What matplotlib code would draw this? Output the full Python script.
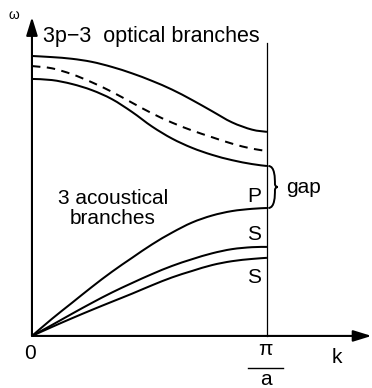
import matplotlib
matplotlib.use('Agg')
import matplotlib.pyplot as plt
from matplotlib.path import Path
from matplotlib.patches import PathPatch

plt.rcParams['font.family'] = ['Liberation Sans', 'DejaVu Sans']

# wave vector in units of pi/a
k = [0, 0.085, 0.17, 0.255, 0.34, 0.426, 0.511, 0.596, 0.681, 0.766, 0.851, 0.936, 1.0]

# optical branches (arbitrary frequency units)
opt_top = [1.000, 0.996, 0.990, 0.979, 0.961, 0.938, 0.911, 0.880, 0.843, 0.803, 0.763, 0.737, 0.729]
opt_mid = [0.964, 0.956, 0.935, 0.906, 0.872, 0.833, 0.795, 0.762, 0.734, 0.710, 0.687, 0.669, 0.661]
opt_low = [0.918, 0.914, 0.900, 0.878, 0.846, 0.800, 0.748, 0.705, 0.672, 0.647, 0.628, 0.614, 0.607]

# acoustical branches
ac_P = [0, 0.061, 0.118, 0.175, 0.229, 0.279, 0.327, 0.369, 0.405, 0.430, 0.446, 0.454, 0.457]
ac_S1 = [0, 0.039, 0.079, 0.118, 0.155, 0.189, 0.221, 0.250, 0.274, 0.295, 0.310, 0.317, 0.318]
ac_S2 = [0, 0.032, 0.063, 0.093, 0.122, 0.151, 0.181, 0.209, 0.232, 0.253, 0.267, 0.275, 0.279]


def smooth_path(xs, ys):
    # Catmull-Rom through the points, as cubic Bezier segments
    pts = list(zip(xs, ys))
    verts = [pts[0]]
    codes = [Path.MOVETO]
    n = len(pts)
    for i in range(n - 1):
        p0 = pts[max(i - 1, 0)]
        p1 = pts[i]
        p2 = pts[i + 1]
        p3 = pts[min(i + 2, n - 1)]
        c1 = (p1[0] + (p2[0] - p0[0]) / 6, p1[1] + (p2[1] - p0[1]) / 6)
        c2 = (p2[0] - (p3[0] - p1[0]) / 6, p2[1] - (p3[1] - p1[1]) / 6)
        verts += [c1, c2, p2]
        codes += [Path.CURVE4] * 3
    return Path(verts, codes)


fig = plt.figure(figsize=(3.72, 3.88), dpi=100)
ax = fig.add_axes([0, 0, 1, 1])
ax.set_xlim(-0.136, 1.447)
ax.set_ylim(-0.186, 1.2)
ax.axis('off')

lw = 1.45
for branch in (opt_top, opt_low, ac_P, ac_S1, ac_S2):
    ax.add_patch(PathPatch(smooth_path(k, branch), fc='none', ec='k', lw=lw))
ax.add_patch(PathPatch(smooth_path(k, opt_mid), fc='none', ec='k', lw=lw,
                       linestyle=(0, (4.2, 3.2))))

# axes with arrows
arrow = dict(arrowstyle='-|>,head_length=0.55,head_width=0.17', lw=1.5, color='k',
             mutation_scale=20, shrinkA=0, shrinkB=0)
ax.annotate('', xy=(0, 1.139), xytext=(0, 0), arrowprops=arrow)
ax.annotate('', xy=(1.445, 0), xytext=(0, 0), arrowprops=arrow)

# zone boundary
ax.plot([1, 1], [0, 1.046], 'k', lw=0.9)

# brace over the gap
y0, y1 = ac_P[-1], opt_low[-1]
ym = (y0 + y1) / 2
x0 = 1.006
w = 0.04
verts = [(x0, y1), (x0 + w * 0.7, y1), (x0 + w * 0.7, ym + 0.03), (x0 + w * 0.7, ym + 0.012),
         (x0 + w * 0.7, ym), (x0 + w, ym), (x0 + w, ym),
         (x0 + w, ym), (x0 + w * 0.7, ym), (x0 + w * 0.7, ym - 0.012),
         (x0 + w * 0.7, ym - 0.03), (x0 + w * 0.7, y0), (x0, y0)]
codes = [Path.MOVETO] + [Path.CURVE4] * 12
ax.add_patch(PathPatch(Path(verts, codes), fc='none', ec='k', lw=1.4))

fs = 15
ax.text(-0.077, 1.146, 'ω', fontsize=10, ha='center', va='center')
ax.text(0.045, 1.05, '3p−3  optical branches', fontsize=15.5, ha='left', va='baseline')
ax.text(0.345, 0.473, '3 acoustical', fontsize=fs, ha='center', va='baseline')
ax.text(0.345, 0.40, 'branches', fontsize=fs, ha='center', va='baseline')
ax.text(0.945, 0.479, 'P', fontsize=fs, ha='center', va='baseline')
ax.text(0.945, 0.343, 'S', fontsize=fs, ha='center', va='baseline')
ax.text(0.945, 0.189, 'S', fontsize=fs, ha='center', va='baseline')
ax.text(1.083, 0.511, 'gap', fontsize=fs, ha='left', va='baseline')

ax.text(-0.009, -0.061, '0', fontsize=fs, ha='center', va='center')
ax.text(1.298, -0.078, 'k', fontsize=fs, ha='center', va='center')
ax.text(0.995, -0.05, 'π', fontsize=fs, ha='center', va='center')
ax.plot([0.92, 1.068], [-0.114, -0.114], 'k', lw=1.0)
ax.text(0.995, -0.157, 'a', fontsize=fs, ha='center', va='center')

fig.savefig('out.png', dpi=100)
